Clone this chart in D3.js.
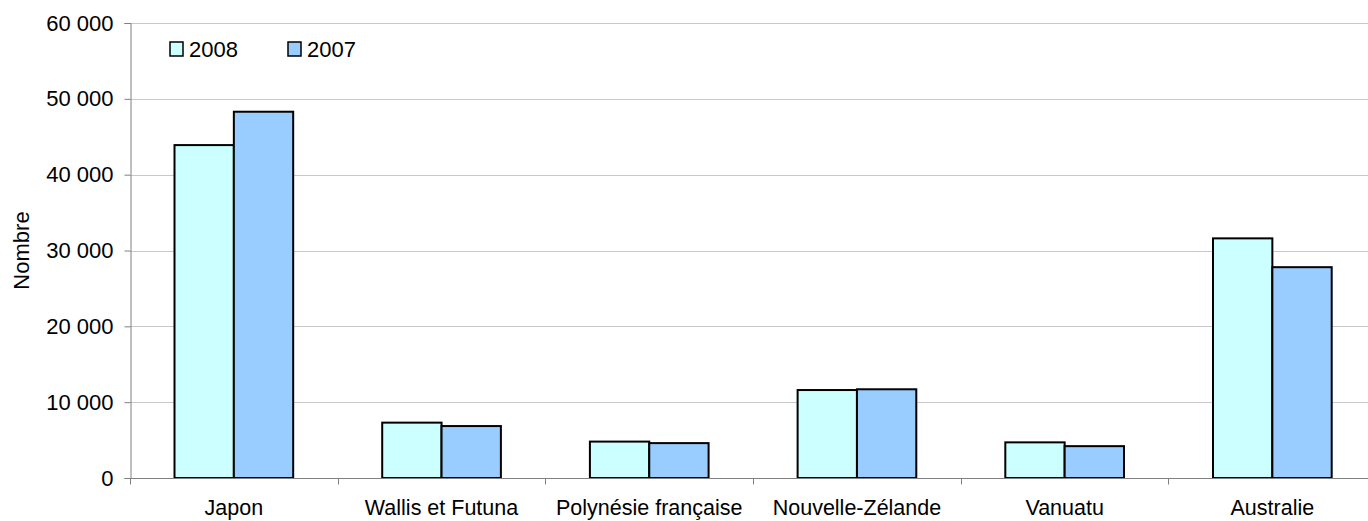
<!DOCTYPE html>
<html>
<head>
<meta charset="utf-8">
<script src="https://cdn.jsdelivr.net/npm/d3@7"></script>
<style>
  body { margin: 0; background: #fff; }
  svg { font-family: Arial, "Liberation Sans", sans-serif; }
  .grid line { stroke: #c8c8c8; }
</style>
</head>
<body>
<script>
//chart data
var categories = ["Japon", "Wallis et Futuna", "Polynésie française", "Nouvelle-Zélande", "Vanuatu", "Australie"];
var seriesNames = ["2008", "2007"];
var values2008 = [43900, 7300, 4800, 11600, 4700, 31600];
var values2007 = [48300, 6850, 4600, 11700, 4200, 27800];
var yTicks = [0, 10000, 20000, 30000, 40000, 50000, 60000];
var colors = ["#ccffff", "#99ccff"];

var width = 1368,
  height = 521;

//plot frame (runs off the right edge like the original)
var plotLeft = 130, plotTop = 23, plotBottom = 478, bandW = 207.7;

var svg = d3.select("body")
  .append("svg")
  .attr("width", width)
  .attr("height", height);

var fr = d3.formatLocale({decimal: ",", thousands: " ", grouping: [3], currency: ["", ""]});
var fmt = fr.format(",");

var x0 = d3.scaleBand()
  .domain(categories)
  .range([plotLeft, plotLeft + bandW * categories.length])
  .padding(0);

var x1 = d3.scaleBand()
  .domain(seriesNames)
  .range([0, x0.bandwidth()])
  .paddingInner(0)
  .paddingOuter(0.75);

var y = d3.scaleLinear()
  .domain([0, 60000])
  .range([plotBottom, plotTop]);

//gridlines
svg.append("g")
  .attr("class", "grid")
  .selectAll("line")
  .data(yTicks.slice(1))
  .enter()
  .append("line")
  .attr("x1", plotLeft)
  .attr("x2", width)
  .attr("y1", function(d) { return Math.round(y(d)) + 0.5; })
  .attr("y2", function(d) { return Math.round(y(d)) + 0.5; });

//y axis
var yAxis = svg.append("g")
  .attr("transform", "translate(" + (plotLeft + 0.5) + ",0)")
  .call(d3.axisLeft(y).tickValues(yTicks).tickFormat(fmt).tickSize(6).tickPadding(11));
yAxis.select(".domain").attr("stroke", "#808080");
yAxis.selectAll(".tick line").attr("stroke", "#808080");
yAxis.selectAll("text").attr("font-size", 22).attr("fill", "#000")
  .attr("font-family", "Arial, 'Liberation Sans', sans-serif");

//bars
var series = seriesNames.map(function(s, i) {
  return {name: s, color: colors[i], vals: i === 0 ? values2008 : values2007};
});

series.forEach(function(s) {
  svg.selectAll(".bar-" + s.name)
    .data(categories)
    .enter()
    .append("rect")
    .attr("class", "bar-" + s.name)
    .attr("x", function(d) { return x0(d) + x1(s.name); })
    .attr("width", x1.bandwidth())
    .attr("y", function(d, i) { return y(s.vals[i]); })
    .attr("height", function(d, i) { return plotBottom - y(s.vals[i]); })
    .attr("fill", s.color)
    .attr("stroke", "#000")
    .attr("stroke-width", 2);
});

//x axis
var xAxis = svg.append("g")
  .attr("transform", "translate(0," + (plotBottom + 0.5) + ")");
xAxis.append("line")
  .attr("x1", plotLeft)
  .attr("x2", width)
  .attr("stroke", "#808080");
xAxis.selectAll(".xt")
  .data(categories)
  .enter()
  .append("line")
  .attr("x1", function(d) { return Math.round(x0(d)) + 0.5; })
  .attr("x2", function(d) { return Math.round(x0(d)) + 0.5; })
  .attr("y1", 0)
  .attr("y2", 6)
  .attr("stroke", "#808080");
xAxis.selectAll(".xl")
  .data(categories)
  .enter()
  .append("text")
  .attr("x", function(d) { return x0(d) + x0.bandwidth() / 2; })
  .attr("y", 36.5)
  .attr("text-anchor", "middle")
  .attr("font-size", 21.5)
  .text(function(d) { return d; });

//y axis title
svg.append("text")
  .attr("transform", "translate(29," + ((plotTop + plotBottom) / 2) + ") rotate(-90)")
  .attr("text-anchor", "middle")
  .attr("font-size", 22)
  .text("Nombre");

//legend
var legend = svg.selectAll(".legend")
  .data(series)
  .enter()
  .append("g")
  .attr("class", "legend")
  .attr("transform", function(d, i) { return "translate(" + (170 + i * 118) + ",42)"; });
legend.append("rect")
  .attr("width", 13)
  .attr("height", 14)
  .attr("fill", function(d) { return d.color; })
  .attr("stroke", "#000")
  .attr("stroke-width", 1.5);
legend.append("text")
  .attr("x", 19)
  .attr("y", 15)
  .attr("font-size", 22)
  .text(function(d) { return d.name; });
</script>
</body>
</html>
